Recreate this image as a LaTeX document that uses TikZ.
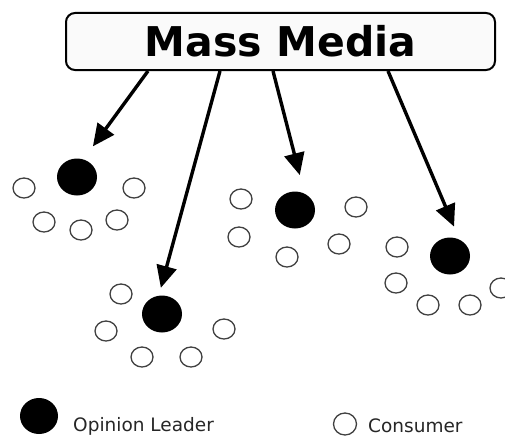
\documentclass[tikz,border=0pt]{standalone}
\usepackage{fontspec}
\setmainfont{DejaVu Sans}
\usetikzlibrary{shapes.geometric,arrows.meta}
\tikzset{
      media/.style    = { draw, line width=2pt, rounded corners=9pt, fill=black!2,
                          minimum width=429pt, minimum height=57pt, inner sep=0pt,
                          font=\bfseries\fontsize{41}{41}\selectfont },
      leader/.style   = { ellipse, fill=black, minimum width=40pt, minimum height=37pt, inner sep=0pt },
      consumer/.style = { ellipse, draw=black!75, line width=1.3pt, fill=white,
                          minimum width=22pt, minimum height=20pt, inner sep=0pt },
      link/.style     = { line width=3.4pt, -{Triangle[length=22pt,width=20pt]} },
      legend/.style   = { anchor=base west, inner sep=0pt, text=black!85,
                          font=\fontsize{18.5}{18.5}\selectfont }
    }
\begin{document}
\begin{tikzpicture}[x=1pt,y=-1pt]
      \useasboundingbox (0,0) rectangle (505,436);
      \clip (0,0) rectangle (505,436);

      % Mass media box
      \node[media] (mm) at (280.5,41.5) {Mass Media};

      % Opinion leaders
      \node[leader] (la) at (77,177)  {};
      \node[leader] (lb) at (162,314) {};
      \node[leader] (lc) at (295,210) {};
      \node[leader] (ld) at (450,256) {};

      % Consumers around each leader
      \foreach \n/\x/\y in {a1/24/188, a2/134/188, a3/44/222, a4/81/230, a5/117/220,
                            b1/121/294, b2/106/331, b3/224/329, b4/142/357, b5/191/357,
                            c1/241/199, c2/239/237, c3/287/257, c4/339/244, c5/356/207,
                            d1/397/247, d2/396/283, d3/428/305, d4/470/305, d5/501/288} {
        \node[consumer] (c\n) at (\x,\y) {};
      }

      % Media reaches the leaders
      \draw[link, shorten >=16pt] (mm.south -| 148,0) -- (la.70);
      \draw[link, shorten >=8pt]  (mm.south -| 220,0) -- (lb.100);
      \draw[link, shorten >=19pt] (mm.south -| 273,0) -- (lc.60);
      \draw[link, shorten >=14pt] (mm.south -| 388,0) -- (ld.60);

      % Legend
      \node[leader, minimum width=38pt, minimum height=36pt] (kl) at (39,416) {};
      \node[legend] (kltext) at (73,431) {Opinion Leader};
      \node[consumer, minimum width=23pt, minimum height=22pt] (kc) at (345,424) {};
      \node[legend] (kctext) at (368,432) {Consumer};
\end{tikzpicture}
\end{document}
